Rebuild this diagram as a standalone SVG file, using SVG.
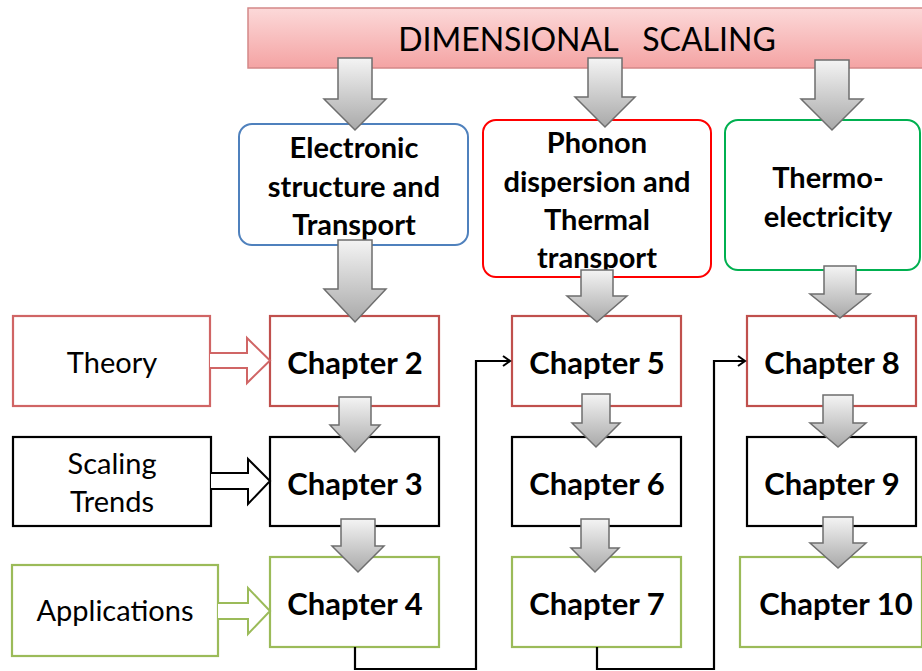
<svg xmlns="http://www.w3.org/2000/svg" width="922" height="671" viewBox="0 0 922 671">
  <defs>
    <linearGradient id="bannerGrad" x1="0" y1="0" x2="0" y2="1">
      <stop offset="0" stop-color="#fcd9d9"/>
      <stop offset="1" stop-color="#f4a3a3"/>
    </linearGradient>
    <linearGradient id="greyGrad" x1="0" y1="0" x2="0" y2="1">
      <stop offset="0" stop-color="#f4f4f4"/>
      <stop offset="1" stop-color="#a9a9a9"/>
    </linearGradient>
    <marker id="open" markerWidth="12" markerHeight="12" refX="10" refY="6" orient="auto" markerUnits="userSpaceOnUse">
      <path d="M3,1 L10,6 L3,11" fill="none" stroke="#000" stroke-width="2"/>
    </marker>
  </defs>
  <style>
    .t { font-family: Lato, "Open Sans", "Liberation Sans", sans-serif; fill: #000; text-anchor: middle; }
    .b { font-weight: bold; }
    .chap { font-size: 31px; }
    .top { font-size: 29px; }
    .side { font-size: 29px; }
    .box { fill: #fff; stroke-width: 2.2; }
    .rbox { fill: #fff; stroke-width: 2; }
    .red { stroke: #c0504d; }
    .blk { stroke: #000; }
    .grn { stroke: #9bbb59; }
    .garrow { fill: url(#greyGrad); stroke: #6e6e6e; stroke-width: 1.5; stroke-linejoin: miter; }
    .oarrow { fill: #fff; stroke-width: 2; }
    .conn { fill: none; stroke: #000; stroke-width: 2.2; }
  </style>

  <g id="banner">
    <rect x="248" y="8" width="690" height="60" fill="url(#bannerGrad)" stroke="#d48888" stroke-width="1.5"/>
    <text class="t" x="587" y="51" font-size="32" xml:space="preserve">DIMENSIONAL   SCALING</text>
  </g>

  <g id="electronic">
    <rect class="rbox" x="239" y="124" width="229" height="121" rx="13" stroke="#4f81bd"/>
    <text class="t b top" x="354" y="158">Electronic</text>
    <text class="t b top" x="354" y="197">structure and</text>
    <text class="t b top" x="354" y="235">Transport</text>
  </g>

  <g id="phonon">
    <rect class="rbox" x="483" y="120" width="228" height="157" rx="13" stroke="#ff0000"/>
    <text class="t b top" x="597" y="153">Phonon</text>
    <text class="t b top" x="597" y="192">dispersion and</text>
    <text class="t b top" x="597" y="230">Thermal</text>
    <text class="t b top" x="597" y="268">transport</text>
  </g>

  <g id="thermo">
    <rect class="rbox" x="725" y="120" width="195" height="150" rx="13" stroke="#00b050"/>
    <text class="t b top" x="828" y="188">Thermo-</text>
    <text class="t b top" x="828" y="227">electricity</text>
  </g>

  <g id="theory">
    <rect class="box" x="13" y="316" width="197" height="90" stroke="#d06565"/>
    <text class="t side" x="112" y="373">Theory</text>
  </g>
  <g id="scaling">
    <rect class="box blk" x="13" y="437" width="198" height="89"/>
    <text class="t side" x="112" y="474">Scaling</text>
    <text class="t side" x="112" y="512">Trends</text>
  </g>
  <g id="applications">
    <rect class="box grn" x="12" y="565" width="206" height="91"/>
    <text class="t side" x="115" y="621">Applications</text>
  </g>

  <g id="ch2">
    <rect class="box red" x="270" y="316" width="169" height="90"/>
    <text class="t b chap" x="355" y="374">Chapter 2</text>
  </g>
  <g id="ch3">
    <rect class="box blk" x="270" y="437" width="169" height="89"/>
    <text class="t b chap" x="355" y="495">Chapter 3</text>
  </g>
  <g id="ch4">
    <rect class="box grn" x="270" y="557" width="169" height="90"/>
    <text class="t b chap" x="355" y="615">Chapter 4</text>
  </g>
  <g id="ch5">
    <rect class="box red" x="512" y="316" width="169" height="90"/>
    <text class="t b chap" x="597" y="374">Chapter 5</text>
  </g>
  <g id="ch6">
    <rect class="box blk" x="512" y="437" width="169" height="89"/>
    <text class="t b chap" x="597" y="495">Chapter 6</text>
  </g>
  <g id="ch7">
    <rect class="box grn" x="512" y="557" width="169" height="90"/>
    <text class="t b chap" x="597" y="615">Chapter 7</text>
  </g>
  <g id="ch8">
    <rect class="box red" x="747" y="316" width="169" height="90"/>
    <text class="t b chap" x="832" y="374">Chapter 8</text>
  </g>
  <g id="ch9">
    <rect class="box blk" x="747" y="437" width="169" height="89"/>
    <text class="t b chap" x="832" y="495">Chapter 9</text>
  </g>
  <g id="ch10">
    <rect class="box grn" x="740" y="557" width="182" height="90"/>
    <text class="t b chap" x="836" y="615">Chapter 10</text>
  </g>

  <g id="connectors">
    <path class="garrow" d="M338,58 H372 V99 H386 L355,130 L324,99 H338 Z"/>
    <path class="garrow" d="M588,58 H622 V97 H635 L605,127 L575,97 H588 Z"/>
    <path class="garrow" d="M815,60 H849 V99 H863 L832,130 L801,99 H815 Z"/>
    <path class="garrow" d="M338,240 H372 V289 H386 L355,322 L324,289 H338 Z"/>
    <path class="garrow" d="M581,270 H613 V296 H627 L597,322 L567,296 H581 Z"/>
    <path class="garrow" d="M824,266 H856 V294 H870 L840,318 L810,294 H824 Z"/>
    <path class="garrow" d="M339,397 H371 V425 H380 L355,452 L330,425 H339 Z"/>
    <path class="garrow" d="M341,519 H375 V546 H384 L358,572 L332,546 H341 Z"/>
    <path class="garrow" d="M582,394 H610 V423 H620 L596,447 L572,423 H582 Z"/>
    <path class="garrow" d="M581,519 H609 V548 H619 L595,572 L571,548 H581 Z"/>
    <path class="garrow" d="M823,395 H853 V423 H866 L838,447 L810,423 H823 Z"/>
    <path class="garrow" d="M823,517 H853 V543 H866 L838,568 L810,543 H823 Z"/>

    <path class="oarrow" stroke="#d06565" d="M210,353 H247 V338 L270,360.5 L247,383 V368 H210"/>
    <path class="oarrow" stroke="#000" d="M211,473 H248 V459 L270,481 L248,504 V489 H211"/>
    <path class="oarrow" stroke="#9bbb59" d="M218,603 H248 V588 L270,611 L248,634 V619 H218"/>

    <polyline class="conn" points="355,647 355,669 476,669 476,361 510,361" marker-end="url(#open)"/>
    <polyline class="conn" points="597,647 597,669 714,669 714,361 745,361" marker-end="url(#open)"/>
  </g>
</svg>
